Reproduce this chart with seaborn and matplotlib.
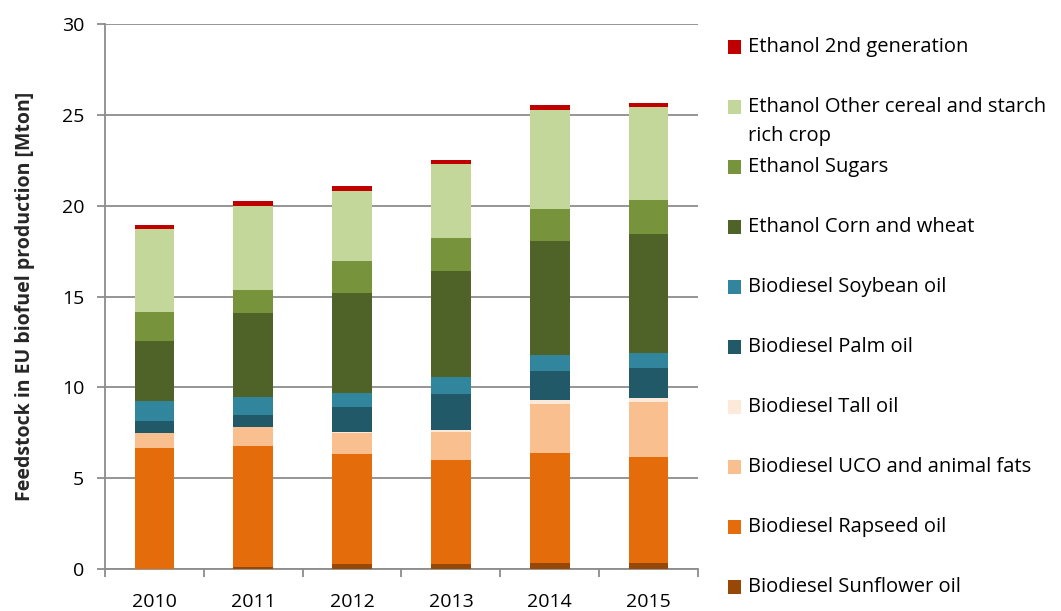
import matplotlib
matplotlib.use("Agg")
import matplotlib.pyplot as plt
from matplotlib.patches import Rectangle
import numpy as np
import pandas as pd
import seaborn as sns

years = ["2010", "2011", "2012", "2013", "2014", "2015"]

# stacked from bottom to top
series_names = [
    "Biodiesel Sunflower oil",
    "Biodiesel Rapseed oil",
    "Biodiesel UCO and animal fats",
    "Biodiesel Tall oil",
    "Biodiesel Palm oil",
    "Biodiesel Soybean oil",
    "Ethanol Corn and wheat",
    "Ethanol Sugars",
    "Ethanol Other cereal and starch rich crop",
    "Ethanol 2nd generation",
]
sunflower = [0.00, 0.13, 0.26, 0.28, 0.31, 0.31]
rapeseed = [6.68, 6.64, 6.09, 5.72, 6.09, 5.87]
uco = [0.79, 1.04, 1.12, 1.52, 2.70, 3.03]
tall = [0.00, 0.02, 0.07, 0.15, 0.18, 0.18]
palm = [0.69, 0.66, 1.39, 1.98, 1.60, 1.69]
soybean = [1.09, 0.98, 0.78, 0.90, 0.88, 0.81]
corn_wheat = [3.32, 4.60, 5.46, 5.87, 6.31, 6.56]
sugars = [1.59, 1.29, 1.78, 1.80, 1.74, 1.88]
other_cereal = [4.57, 4.64, 3.87, 4.07, 5.43, 5.08]
second_gen = [0.22, 0.24, 0.24, 0.24, 0.28, 0.24]

values = [sunflower, rapeseed, uco, tall, palm, soybean,
          corn_wheat, sugars, other_cereal, second_gen]
colors = ["#974706", "#E46C0A", "#FABF8F", "#FDE9D9", "#215968",
          "#31859C", "#4F6228", "#77933C", "#C4D79B", "#C00000"]

legend_labels = [
    "Ethanol 2nd generation",
    "Ethanol Other cereal and starch\nrich crop",
    "Ethanol Sugars",
    "Ethanol Corn and wheat",
    "Biodiesel Soybean oil",
    "Biodiesel Palm oil",
    "Biodiesel Tall oil",
    "Biodiesel UCO and animal fats",
    "Biodiesel Rapseed oil",
    "Biodiesel Sunflower oil",
]

sns.set_theme(style="white")
plt.rcParams["font.family"] = ["Open Sans", "DejaVu Sans"]

W, H = 1061, 611
fig = plt.figure(figsize=(W / 100, H / 100), dpi=100)
ax = fig.add_axes([105 / W, 1 - 569 / H, (698 - 105) / W, (569 - 24) / H])

cum = np.cumsum(np.array(values), axis=0)
# draw from top-most cumulative down so lower segments overlay
for i in range(len(series_names) - 1, -1, -1):
    df = pd.DataFrame({"year": years, "value": cum[i]})
    sns.barplot(data=df, x="year", y="value", order=years, color=colors[i],
                saturation=1, width=0.4, errorbar=None, ax=ax,
                linewidth=0, zorder=3)

ax.set_xlim(-0.5, len(years) - 0.5)
ax.set_ylim(0, 30)
ax.set_yticks(np.arange(0, 31, 5))
ax.yaxis.grid(True, color="#8c8c8c", linewidth=1.3, zorder=0)
ax.set_axisbelow(True)
for s in ["top", "right"]:
    ax.spines[s].set_visible(False)
for s in ["left", "bottom"]:
    ax.spines[s].set_color("#8c8c8c")
    ax.spines[s].set_linewidth(1.3)

ax.tick_params(axis="y", which="major", left=True, length=6, width=1.3,
               color="#8c8c8c", labelsize=14, labelcolor="black", pad=9)
ax.tick_params(axis="x", which="major", bottom=False, labelsize=14,
               labelcolor="black", pad=11)
ax.set_xticks(np.arange(-0.5, len(years), 1.0), minor=True)
ax.tick_params(axis="x", which="minor", bottom=True, length=6, width=1.3,
               color="#8c8c8c")
ax.set_xlabel("")
ax.set_ylabel("Feedstock in EU biofuel production [Mton]", fontsize=14,
              fontweight="bold", labelpad=19)

# legend drawn manually (Excel style: marker aligned with first text line)
legend_colors = colors[::-1]
y0 = 47
step = 60
for k, (lab, col) in enumerate(zip(legend_labels, legend_colors)):
    yc = y0 + k * step
    fig.patches.append(Rectangle((728 / W, 1 - (yc + 7) / H), 13 / W, 14 / H,
                                 transform=fig.transFigure, facecolor=col,
                                 edgecolor="none"))
    for j, ln in enumerate(lab.split("\n")):
        fig.text(748 / W, 1 - (yc + j * 29) / H, ln, fontsize=14.5,
                 va="center", ha="left", color="black")

fig.savefig("out.png", dpi=100)
